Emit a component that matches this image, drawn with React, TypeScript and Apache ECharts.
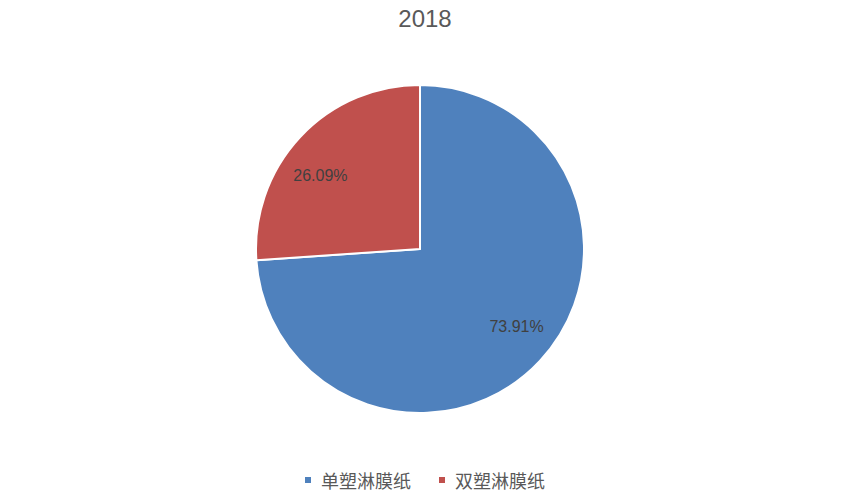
import React, { useEffect, useRef } from 'react';
import * as echarts from 'echarts';

const title = '2018';
const categories = ['单塑淋膜纸', '双塑淋膜纸'];
const values = [73.91, 26.09];
const colors = ['#4F81BD', '#C0504D'];
const labelOffsets = [
  [3, -10],
  [-6, 14],
];

const App = () => {
  const chartRef = useRef<HTMLDivElement>(null);

  useEffect(() => {
    if (!chartRef.current) return;
    const chart = echarts.init(chartRef.current, null, { renderer: 'svg' });

    const pieData = categories.map((name, i) => ({
      name,
      value: values[i],
      itemStyle: { color: colors[i] },
    }));

    chart.setOption({
      animation: false,
      title: {
        text: title,
        left: 420,
        textAlign: 'center',
        top: 1,
        textStyle: {
          fontSize: 24,
          fontWeight: 'normal',
          color: '#595959',
          fontFamily: 'Liberation Sans, Arial, sans-serif',
        },
      },
      legend: {
        data: categories,
        left: 'center',
        top: 471,
        padding: 0,
        icon: 'rect',
        itemWidth: 8,
        itemHeight: 8,
        itemGap: 26,
        textStyle: {
          fontSize: 18,
          color: '#595959',
          padding: [0, 0, 0, 4],
          fontFamily: 'Noto Sans CJK SC, sans-serif',
        },
      },
      series: [
        {
          type: 'pie',
          center: [420, 249],
          radius: [0, 164],
          startAngle: 90,
          clockwise: true,
          silent: true,
          label: { show: false },
          labelLine: { show: false },
          itemStyle: { borderColor: '#ffffff', borderWidth: 2 },
          data: pieData,
        },
        {
          // invisible larger pie, used only to place the labels further out
          type: 'pie',
          center: [420, 249],
          radius: [0, 250],
          startAngle: 90,
          clockwise: true,
          silent: true,
          legendHoverLink: false,
          label: {
            show: true,
            position: 'inside',
            formatter: (p: any) => p.value.toFixed(2) + '%',
            fontSize: 16,
            color: '#404040',
            fontFamily: 'Liberation Sans, Arial, sans-serif',
          },
          emphasis: { disabled: true },
          data: categories.map((name, i) => ({
            name,
            value: values[i],
            itemStyle: { color: 'transparent' },
            label: { offset: labelOffsets[i] },
          })),
        },
      ],
    });

    return () => {
      chart.dispose();
    };
  }, []);

  return (
    <div
      ref={chartRef}
      style={{ position: 'fixed', left: 0, top: 0, width: 848, height: 493, background: '#ffffff' }}
    />
  );
};

export default App;
